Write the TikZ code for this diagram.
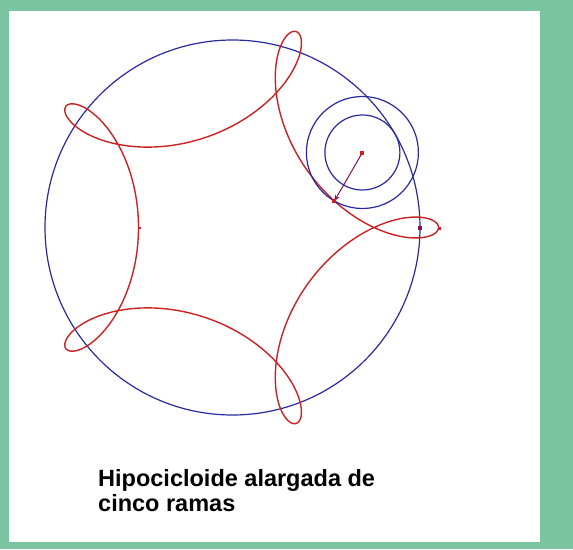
\documentclass[tikz,border=0pt]{standalone}
\usepackage{fontspec}
\setmainfont{Liberation Sans}
\usetikzlibrary{arrows.meta}
\begin{document}
\begin{tikzpicture}[x=1pt,y=-1pt,
  bluecurve/.style={draw=cblue,line width=1.2pt},
  redcurve/.style={draw=cred,line width=1.4pt},
  dotmark/.style={fill=#1,inner sep=0pt,minimum size=4pt,draw=none,rectangle},
  caption/.style={anchor=base west,inner sep=0pt,font=\fontsize{23.5}{25}\selectfont\bfseries,text=black}]
\definecolor{cblue}{RGB}{42,42,160}
\definecolor{cred}{RGB}{204,34,34}
\definecolor{cgreen}{RGB}{122,196,161}
\definecolor{cpurple}{RGB}{128,20,90}
\useasboundingbox (0,0) rectangle (573,549);
\fill[cgreen] (0,0) rectangle (573,549);
\fill[white] (9,11) rectangle (540,542);
% fixed circle
\coordinate (O) at (232.5,227.5);
\draw[bluecurve] (O) circle (187.5);
% elongated hypocycloid (R = 5r)
\draw[redcurve,line join=round] plot[domain=0:360,samples=600,smooth,variable=\t]
  ({232.5+150*cos(\t)+56*cos(4*\t)},{227.5-150*sin(\t)+56*sin(4*\t)}) -- cycle;
% rolling circle and its tracing radius
\coordinate (C) at ({232.5+150*cos(30)},{227.5-150*sin(30)});
\coordinate (P) at ({232.5+150*cos(30)+56*cos(120)},{227.5-150*sin(30)+56*sin(120)});
\draw[bluecurve] (C) circle (37.5);
\draw[bluecurve] (C) circle (56);
\draw[cpurple,line width=1pt,-{Stealth[length=6pt,width=5pt]}] (C) -- (P);
\node[dotmark=cred] (Cm) at (C) {};
\node[dotmark=cred] (Pm) at (P) {};
\node[dotmark=cpurple] (Q) at (420,228) {};
\node[dotmark=cred,minimum size=3pt] (Tip) at (439,228) {};
\node[dotmark=cred,minimum size=2pt] (L) at (139.5,227.5) {};
% caption
\node[caption] (t1) at (98,486.7) {Hipocicloide alargada de};
\node[caption] (t2) at (98,511.7) {cinco ramas};
\end{tikzpicture}
\end{document}
